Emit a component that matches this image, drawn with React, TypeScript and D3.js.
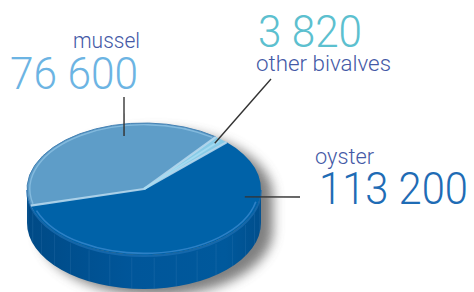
import React, { useEffect, useRef } from 'react';
import * as d3 from 'd3';

const CATEGORIES = ['oyster', 'mussel', 'other bivalves'];
const VALUES = [113200, 76600, 3820];
const VALUE_LABELS = ['113 200', '76 600', '3 820'];

const W = 474, H = 292;
const cx = 144, cy = 189, rx = 117, ry = 66, depth = 34;

const TOP_COLORS = ['#0062a8', '#5e9dc8', '#88cbe7'];
const NAME_COLOR = '#4459a6';
const NUM_COLORS = ['#1f6cb5', '#6cb4e3', '#5cc0cf'];

// label layout, leader line from pie point (ang, fr) to (lx, ly)
const LABELS = [
  { nx: 315, ny: 164, nw: 59, vx: 319, vy: 204, vw: 149, ang: 7.9, fr: 0.87, lx: 300, ly: 197 },
  { nx: 73, ny: 48, nw: 67, vx: 10, vy: 89, vw: 128, ang: 258, fr: 0.82, lx: 124, ly: 97 },
  { nx: 256, ny: 71, nw: 135, vx: 258, vy: 47, vw: 104, ang: -48.9, fr: 0.92, lx: 271, ly: 79 },
];

const pt = (t: number, f = 1): [number, number] => [cx + rx * f * Math.cos(t), cy + ry * f * Math.sin(t)];

const App = () => {
  const ref = useRef<SVGSVGElement>(null);

  useEffect(() => {
    const svg = d3.select(ref.current);
    svg.selectAll('*').remove();

    const defs = svg.append('defs');
    defs.append('filter').attr('id', 'blur').attr('x', '-30%').attr('y', '-30%').attr('width', '160%').attr('height', '160%')
      .append('feGaussianBlur').attr('stdDeviation', 6);
    const sg = defs.append('linearGradient').attr('id', 'side').attr('x1', 0).attr('x2', 1).attr('y1', 0).attr('y2', 0);
    sg.append('stop').attr('offset', '0%').attr('stop-color', '#004a86');
    sg.append('stop').attr('offset', '45%').attr('stop-color', '#00569a');
    sg.append('stop').attr('offset', '85%').attr('stop-color', '#00599c');
    sg.append('stop').attr('offset', '100%').attr('stop-color', '#004e8c');

    const pie = d3.pie<number>().sort(null).startAngle(Math.PI / 4).endAngle(Math.PI / 4 + 2 * Math.PI);
    const arcs = pie(VALUES);
    const th = (a: number) => a - Math.PI / 2;

    // shadow
    const sil = `M${cx - rx},${cy}A${rx},${ry} 0 0 1 ${cx + rx},${cy}L${cx + rx},${cy + depth}A${rx},${ry} 0 0 1 ${cx - rx},${cy + depth}Z`;
    svg.append('path').attr('d', sil).attr('transform', 'translate(12,7)')
      .attr('fill', '#555').attr('opacity', 0.75).attr('filter', 'url(#blur)');

    // side
    const side = `M${cx + rx},${cy}A${rx},${ry} 0 0 1 ${cx - rx},${cy}L${cx - rx},${cy + depth}A${rx},${ry} 0 0 0 ${cx + rx},${cy + depth}Z`;
    svg.append('path').attr('d', side).attr('fill', 'url(#side)');

    // facet lines on side
    const facets = d3.range(8, 180, 11).map(d => d * Math.PI / 180);
    svg.selectAll('line.facet').data(facets).enter().append('line')
      .attr('x1', d => pt(d)[0]).attr('y1', d => pt(d)[1] + 3)
      .attr('x2', d => pt(d)[0]).attr('y2', d => pt(d)[1] + depth)
      .attr('stroke', '#4a88bf').attr('stroke-width', 0.6).attr('opacity', 0.35);

    // side top bevel
    svg.append('path')
      .attr('d', `M${cx + rx},${cy + 1}A${rx},${ry} 0 0 1 ${cx - rx},${cy + 1}`)
      .attr('fill', 'none').attr('stroke', '#1d6fb4').attr('stroke-width', 2).attr('opacity', 0.7);

    // top slices
    const topPath = (t0: number, t1: number) => {
      const [x0, y0] = pt(t0), [x1, y1] = pt(t1);
      const large = t1 - t0 > Math.PI ? 1 : 0;
      return `M${cx},${cy}L${x0},${y0}A${rx},${ry} 0 ${large} 1 ${x1},${y1}Z`;
    };
    svg.selectAll('path.slice').data(arcs).enter().append('path')
      .attr('d', d => topPath(th(d.startAngle), th(d.endAngle)))
      .attr('fill', (d, i) => TOP_COLORS[i]);

    // rim highlights
    const rimArc = (t0: number, t1: number, f: number) => {
      const [x0, y0] = pt(t0, f), [x1, y1] = pt(t1, f);
      return `M${x0},${y0}A${rx * f},${ry * f} 0 0 1 ${x1},${y1}`;
    };
    svg.append('path').attr('d', rimArc(0.2, 2.8, 0.975))
      .attr('fill', 'none').attr('stroke', '#3b8bd0').attr('stroke-width', 1.6).attr('opacity', 0.75);
    const m = arcs[1];
    svg.append('path').attr('d', rimArc(th(m.startAngle) + 0.02, th(m.endAngle) - 0.02, 0.975))
      .attr('fill', 'none').attr('stroke', '#8cc0e2').attr('stroke-width', 1.4).attr('opacity', 0.8);
    svg.append('path').attr('d', rimArc(th(m.startAngle), th(m.endAngle), 1))
      .attr('fill', 'none').attr('stroke', '#4682b4').attr('stroke-width', 1);

    // slice boundary bevels
    arcs.forEach(d => {
      const [x, y] = pt(th(d.startAngle));
      svg.append('line').attr('x1', cx).attr('y1', cy).attr('x2', x).attr('y2', y)
        .attr('stroke', '#b5d8ee').attr('stroke-width', 2.2).attr('opacity', 0.9);
    });
    const o = arcs[2];
    const mid = th((o.startAngle + o.endAngle) / 2);
    const [mx, my] = pt(mid, 0.97);
    svg.append('line').attr('x1', cx).attr('y1', cy).attr('x2', mx).attr('y2', my)
      .attr('stroke', '#a6dcf2').attr('stroke-width', 2).attr('opacity', 0.9);

    // labels + leader lines
    LABELS.forEach((l, i) => {
      const [px, py] = pt(l.ang * Math.PI / 180, l.fr);
      svg.append('line').attr('x1', px).attr('y1', py).attr('x2', l.lx).attr('y2', l.ly)
        .attr('stroke', '#333').attr('stroke-width', 1.4);
      svg.append('text').attr('x', l.nx).attr('y', l.ny).text(CATEGORIES[i])
        .attr('font-size', 22).attr('font-weight', 300).attr('fill', NAME_COLOR)
        .attr('textLength', l.nw).attr('lengthAdjust', 'spacingAndGlyphs');
      svg.append('text').attr('x', l.vx).attr('y', l.vy).text(VALUE_LABELS[i])
        .attr('font-size', 44).attr('font-weight', 300).attr('fill', NUM_COLORS[i])
        .attr('textLength', l.vw).attr('lengthAdjust', 'spacingAndGlyphs');
    });
  }, []);

  return (
    <svg ref={ref} width={W} height={H}
      style={{ position: 'absolute', left: 0, top: 0, background: '#fff', fontFamily: 'Roboto, "Open Sans", sans-serif' }} />
  );
};

export default App;
